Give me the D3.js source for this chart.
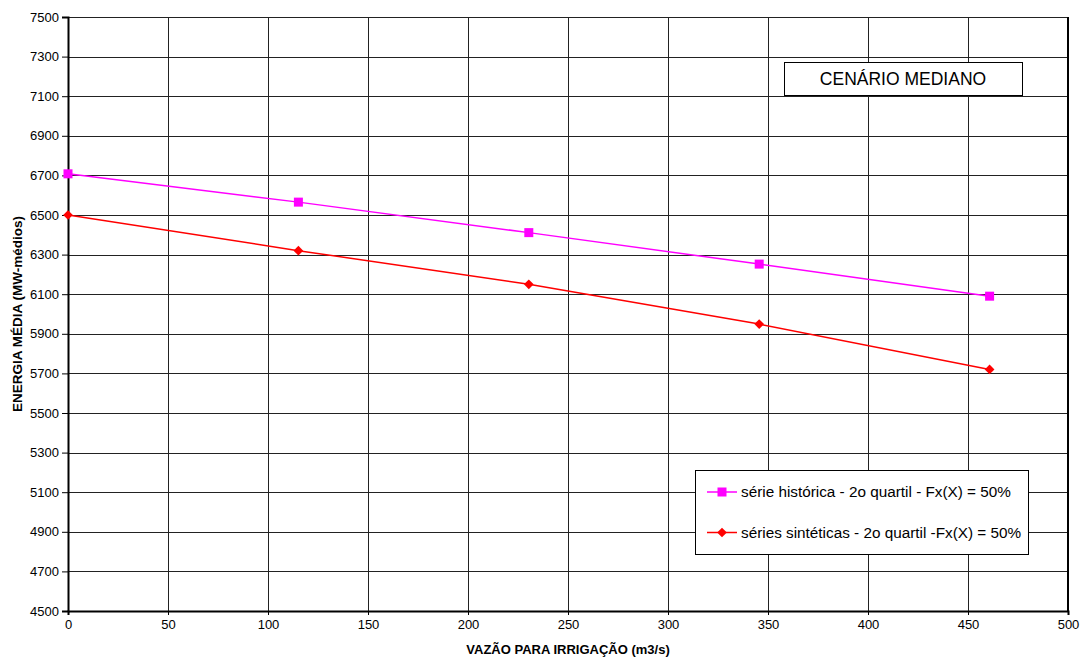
<!DOCTYPE html>
<html>
<head>
<meta charset="utf-8">
<script src="https://cdn.jsdelivr.net/npm/d3@7"></script>
<style>
  body { margin: 0; background: #fff; }
  svg { font-family: "Liberation Sans", Arial, sans-serif; }
</style>
</head>
<body>
<div id="chart"></div>
<script>
// data
var vazao = [0, 115.2, 230.4, 345.6, 460.8];
var serieHistorica = [6708, 6565, 6411, 6252, 6090];
var seriesSinteticas = [6500, 6320, 6150, 5949, 5720];
var xTicks = [0, 50, 100, 150, 200, 250, 300, 350, 400, 450, 500];
var yTicks = [4500, 4700, 4900, 5100, 5300, 5500, 5700, 5900, 6100, 6300, 6500, 6700, 6900, 7100, 7300, 7500];
var legendLabels = ["série histórica - 2o quartil - Fx(X) = 50%", "séries sintéticas - 2o quartil -Fx(X) = 50%"];

var margin = {top: 17, right: 12, bottom: 48, left: 68},
    width = 1080 - margin.left - margin.right,
    height = 659 - margin.top - margin.bottom;

var svg = d3.select("#chart")
  .append("svg")
    .attr("width", 1080)
    .attr("height", 659)
  .append("g")
    .attr("transform", "translate(" + margin.left + "," + margin.top + ")");

var x = d3.scaleLinear().domain([0, 500]).range([0, 1000]);
var y = d3.scaleLinear().domain([4500, 7500]).range([594, 0]);

// grid
svg.selectAll(".hgrid")
  .data(yTicks)
  .enter()
  .append("line")
    .attr("x1", 0).attr("x2", x(500))
    .attr("y1", function(d) { return Math.round(y(d)) + 0.5; })
    .attr("y2", function(d) { return Math.round(y(d)) + 0.5; })
    .attr("stroke", "#222")
    .attr("stroke-width", 1);

svg.selectAll(".vgrid")
  .data(xTicks)
  .enter()
  .append("line")
    .attr("x1", function(d) { return Math.round(x(d)) + 0.5; })
    .attr("x2", function(d) { return Math.round(x(d)) + 0.5; })
    .attr("y1", 0).attr("y2", y(4500))
    .attr("stroke", "#222")
    .attr("stroke-width", 1);

// X axis
var xAxis = svg.append("g")
  .attr("transform", "translate(0," + y(4500) + ")")
  .call(d3.axisBottom(x).tickValues(xTicks).tickSize(4).tickPadding(5).tickFormat(d3.format("d")));
xAxis.select(".domain").attr("stroke", "#000").attr("stroke-width", 2);
xAxis.selectAll("text").style("font-size", "13px").attr("fill", "#000");

// Y axis
var yAxis = svg.append("g")
  .call(d3.axisLeft(y).tickValues(yTicks).tickSize(6).tickPadding(3).tickFormat(d3.format("d")));
yAxis.select(".domain").attr("stroke", "#000").attr("stroke-width", 2);
yAxis.selectAll("text").style("font-size", "13px").attr("fill", "#000");

// right border
svg.append("line")
  .attr("x1", x(500)).attr("x2", x(500))
  .attr("y1", 0).attr("y2", y(4500))
  .attr("stroke", "#000").attr("stroke-width", 2);

// lines
var line = d3.line()
  .x(function(d, i) { return x(vazao[i]); })
  .y(function(d) { return y(d); });

svg.append("path")
  .datum(serieHistorica)
  .attr("fill", "none")
  .attr("stroke", "#ff00ff")
  .attr("stroke-width", 1.5)
  .attr("d", line);

svg.append("path")
  .datum(seriesSinteticas)
  .attr("fill", "none")
  .attr("stroke", "#ff0000")
  .attr("stroke-width", 1.5)
  .attr("d", line);

// markers
svg.selectAll(".sq")
  .data(serieHistorica)
  .enter()
  .append("rect")
    .attr("x", function(d, i) { return x(vazao[i]) - 4.5; })
    .attr("y", function(d) { return y(d) - 4.5; })
    .attr("width", 9).attr("height", 9)
    .attr("fill", "#ff00ff");

var diamond = d3.symbol().type(d3.symbolDiamond2).size(60);
svg.selectAll(".dm")
  .data(seriesSinteticas)
  .enter()
  .append("path")
    .attr("d", diamond)
    .attr("transform", function(d, i) { return "translate(" + x(vazao[i]) + "," + y(d) + ")"; })
    .attr("fill", "#ff0000");

// title box
var tb = svg.append("g").attr("transform", "translate(" + (784 - margin.left) + "," + (62 - margin.top) + ")");
tb.append("rect")
  .attr("x", 0.5).attr("y", 0.5).attr("width", 238).attr("height", 33)
  .attr("fill", "#fff").attr("stroke", "#000").attr("stroke-width", 1);
tb.append("text")
  .attr("x", 119).attr("y", 23)
  .attr("text-anchor", "middle")
  .style("font-size", "17.5px")
  .text("CENÁRIO MEDIANO");

// legend
var lg = svg.append("g").attr("transform", "translate(" + (695 - margin.left) + "," + (470 - margin.top) + ")");
lg.append("rect")
  .attr("x", 0.5).attr("y", 0.5).attr("width", 333).attr("height", 84)
  .attr("fill", "#fff").attr("stroke", "#000").attr("stroke-width", 1);
var colors = ["#ff00ff", "#ff0000"];
legendLabels.forEach(function(lbl, i) {
  var ly = 22 + i * 40.5;
  lg.append("line")
    .attr("x1", 12).attr("x2", 42).attr("y1", ly).attr("y2", ly)
    .attr("stroke", colors[i]).attr("stroke-width", 1.5);
  if (i === 0) {
    lg.append("rect").attr("x", 22.5).attr("y", ly - 4.5).attr("width", 9).attr("height", 9).attr("fill", colors[i]);
  } else {
    lg.append("path").attr("d", diamond).attr("transform", "translate(27," + ly + ")").attr("fill", colors[i]);
  }
  lg.append("text")
    .attr("x", 46).attr("y", ly + 5)
    .style("font-size", "15.3px")
    .text(lbl);
});

// axis titles
svg.append("text")
  .attr("x", 500).attr("y", 594 + 43)
  .attr("text-anchor", "middle")
  .style("font-size", "13px")
  .style("font-weight", "bold")
  .text("VAZÃO PARA IRRIGAÇÃO (m3/s)");

svg.append("text")
  .attr("transform", "rotate(-90)")
  .attr("x", -(314 - margin.top)).attr("y", -margin.left + 22)
  .attr("text-anchor", "middle")
  .style("font-size", "13.5px")
  .style("font-weight", "bold")
  .text("ENERGIA MÉDIA (MW-médios)");
</script>
</body>
</html>
